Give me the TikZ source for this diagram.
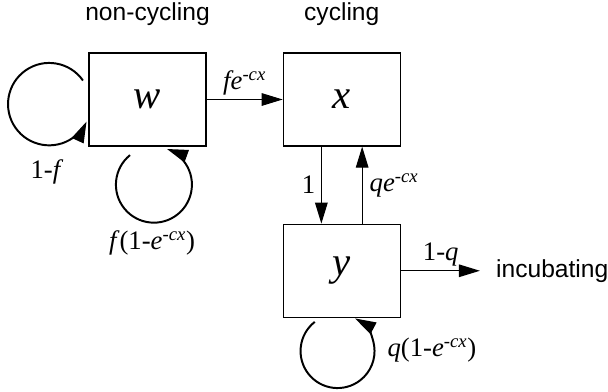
\documentclass[tikz,border=0pt]{standalone}
\usepackage{fontspec}
\setmainfont{Liberation Serif}
\newfontfamily\headfont{Liberation Sans}
\usetikzlibrary{positioning, arrows.meta, calc}

\begin{document}
\begin{tikzpicture}[
  >={Triangle[length=15pt,width=9pt]},
  box/.style={draw, line width=0.9pt, minimum width=2.925cm, minimum height=2.325cm,
              inner sep=0pt, font=\fontsize{29}{32}\selectfont\itshape},
  lbl/.style={font=\fontsize{19}{21}\selectfont, inner sep=1pt},
  title/.style={font=\fontsize{17.5}{19}\selectfont\headfont, inner sep=0pt},
  ar/.style={->, line width=0.75pt},
  lp/.style={->, line width=1.4pt},
]
\useasboundingbox (0,0) rectangle (15.2,-9.775);

% ===================== compartments =====================
\node[box] (w) at (3.6875,-2.4875) {w};
\node[box, right=1.9cm of w] (x) {x};
\node[box, below=1.925cm of x] (y) {y};
\node[title, above=0.65cm of w] (tw) {non-cycling};
\node[title, above=0.65cm of x] (tx) {cycling};
\node[title, right=2.375cm of y] (inc) {incubating};

% ===================== transitions =====================
\draw[ar] (w) -- (x) node[lbl, midway, above=2pt] (lwx) {\textit{fe}\textsuperscript{-\textit{cx}}};
\draw[ar] ([xshift=-0.51cm]x.south) -- ([xshift=-0.51cm]x.south |- y.north)
  node[lbl, midway, left=3pt] (lxy) {1};
\draw[ar] ([xshift=0.51cm]x.south |- y.north) -- ([xshift=0.51cm]x.south)
  node[lbl, midway, right=4pt] (lyx) {\textit{qe}\textsuperscript{-\textit{cx}}};
\draw[ar, shorten >=0.4cm] (y.east) -- (y.east -| inc.west)
  node[lbl, pos=0.42, above=2pt] (lyi) {1-\textit{q}};

% self loops
\draw[lp] ($(w.west)+(-0.135,0.475)$) arc[start angle=35, end angle=335, radius=1.03cm];
\draw[lp] ($(w.south)+(-0.4375,-0.2125)$) arc[start angle=129, end angle=430, radius=0.95cm];
\draw[lp] ($(y.south)+(-0.675,-0.1)$) arc[start angle=128, end angle=422, radius=0.925cm];
\node[lbl] (lww) at (1.175,-4.3) {1-\textit{f}};
\node[lbl] (lws) at (3.8,-6.075) {\textit{f}(1-\textit{e}\textsuperscript{-\textit{cx}})};
\node[lbl] (lys) at (10.8,-8.75) {\textit{q}(1-\textit{e}\textsuperscript{-\textit{cx}})};
\end{tikzpicture}
\end{document}
